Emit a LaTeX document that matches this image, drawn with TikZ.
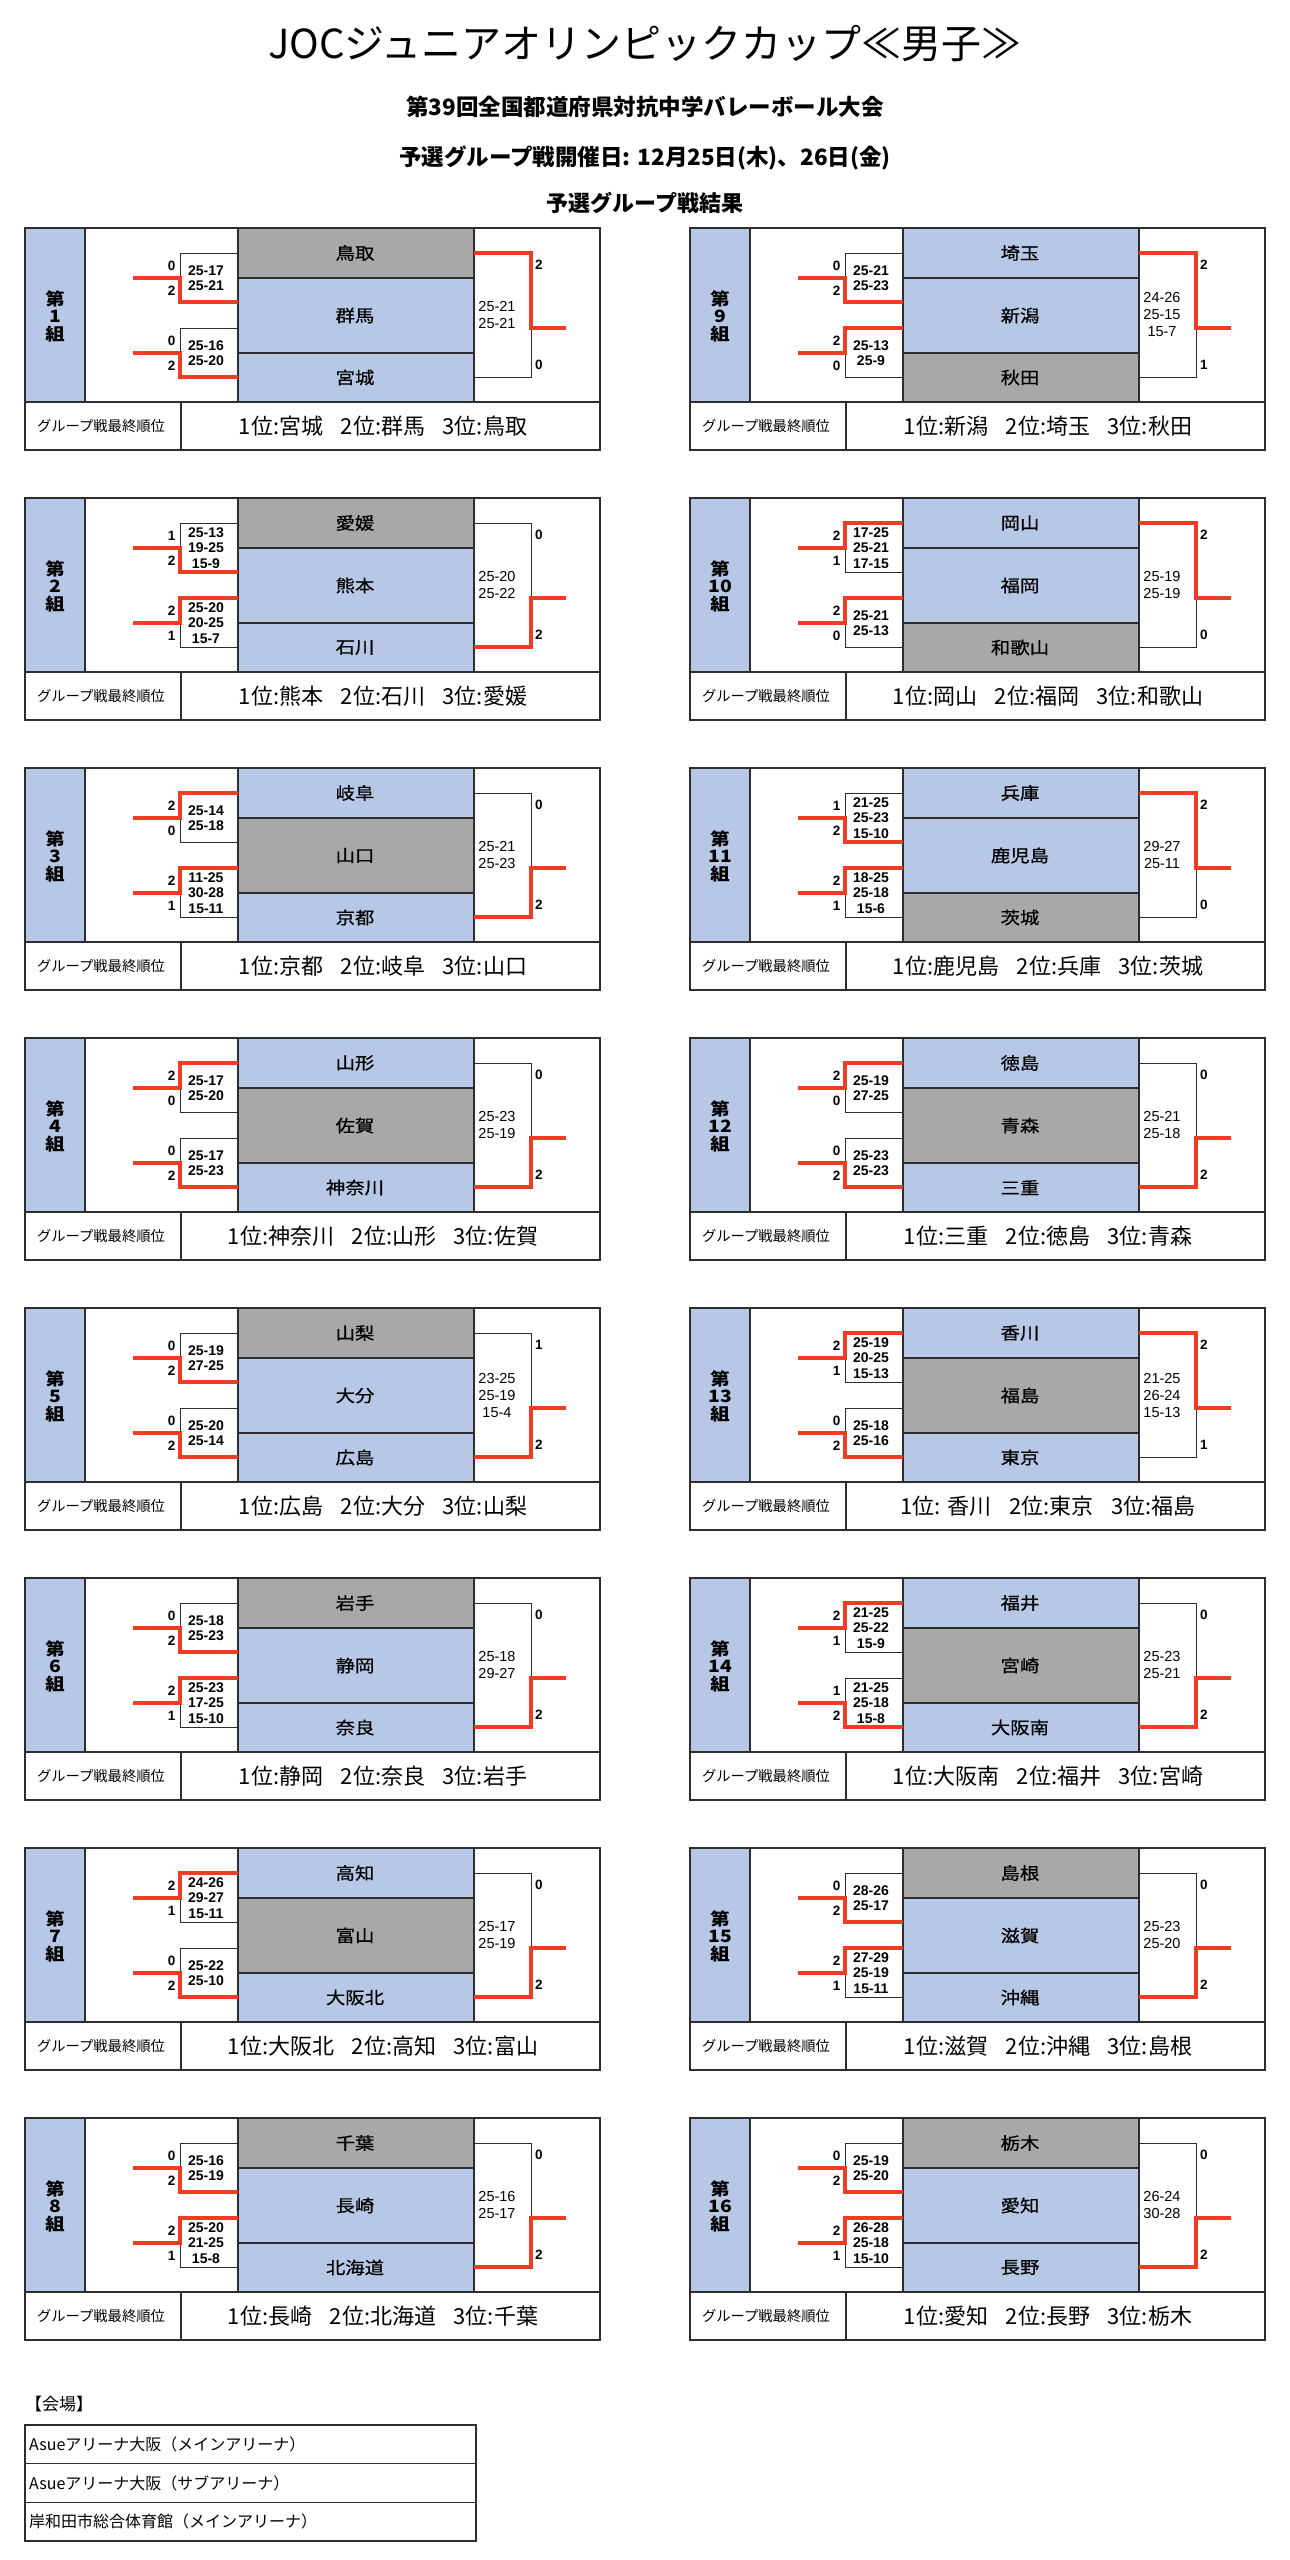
\documentclass[tikz,border=0pt]{standalone}
\usepackage{fontspec}
\setmainfont{Noto Sans CJK JP}
\newfontfamily\lat{Liberation Sans}
\newfontfamily\jpw{Noto Sans CJK JP}[FakeStretch=1.14]
\newfontfamily\jpt{Noto Sans CJK JP}[FakeStretch=1.14, FakeBold=0.6]
\definecolor{tblue}{RGB}{182,200,230}
\definecolor{tgray}{RGB}{168,168,168}
\definecolor{tred}{RGB}{240,60,34}
\definecolor{lnc}{RGB}{45,45,45}
\tikzset{
  boxln/.style={draw=lnc, line width=1.3pt},
  blk/.style={draw=lnc, line width=1pt},
  redln/.style={draw=tred, line width=3.2pt, line join=miter},
  lblf/.style={font=\jpw\fontsize{17}{17.5}\selectfont\bfseries, align=center, inner sep=0pt},
  teamf/.style={font=\jpt\fontsize{17}{17}\selectfont, inner sep=0pt},
  smallf/.style={font=\fontsize{14.3}{14.3}\selectfont, inner sep=0pt},
  rankf/.style={font=\fontsize{22}{22}\selectfont, inner sep=0pt},
  digf/.style={font=\lat\bfseries\fontsize{13.5}{13.5}\selectfont, inner sep=0pt},
  lscf/.style={font=\lat\bfseries\fontsize{14}{15.3}\selectfont, align=center, inner sep=0pt},
  rscf/.style={font=\lat\fontsize{14.5}{17}\selectfont, align=center, inner sep=0pt},
  headf/.style={font=\fontsize{22.5}{22.5}\selectfont\bfseries, inner sep=0pt, anchor=base},
  venuef/.style={font=\fontsize{16}{16}\selectfont, inner sep=0pt, anchor=west}
}
\newcommand\gap{\hspace{0.8em}}
% #1 id, #2 x, #3 y, #4 number, #5-#7 teams, #8 gray row, #9 ranking
\newcommand\grp[9]{%
  \gdef\gx{#2}\gdef\gy{#3}%
  \def\cA{tblue}\def\cB{tblue}\def\cC{tblue}%
  \ifcase#8\or\def\cA{tgray}\or\def\cB{tgray}\or\def\cC{tgray}\fi
  \begin{scope}[shift={(#2,#3)}]
    \fill[tblue] (0,0) rectangle (60,174);
    \fill[\cA] (213,0) rectangle (449,50);
    \fill[\cB] (213,50) rectangle (449,125);
    \fill[\cC] (213,125) rectangle (449,174);
    \draw[boxln] (0,0) rectangle (575,222);
    \draw[boxln] (60,0) -- (60,174) (213,0) -- (213,174) (449,0) -- (449,174)
      (213,50) -- (449,50) (213,125) -- (449,125) (0,174) -- (575,174) (156,174) -- (156,222);
    \node[lblf] (#1lbl) at (30,88) {第\\#4\\組};
    \node[teamf] (#1ta) at (330,25) {#5};
    \node[teamf] (#1tb) at (330,87.5) {#6};
    \node[teamf] (#1tc) at (330,149.5) {#7};
    \node[smallf] (#1cap) at (76,198.5) {グループ戦最終順位};
    \node[rankf] (#1rank) at (358,198) {#9};
  \end{scope}}
% left bracket: #1 id, #2 which, #3 top digit, #4 bottom digit, #5 scores, #6 winner t/b
\newcommand\lbr[6]{%
  \ifnum#2=1 \def\bt{25}\def\bm{50}\def\bb{74}\else\def\bt{100}\def\bm{125}\def\bb{149}\fi
  \begin{scope}[shift={(\gx,\gy)}]
    \coordinate (#1s#2) at (108,\bm);
    \coordinate (#1j#2) at (155,\bm);
    \coordinate (#1u#2) at (213,\bt);
    \coordinate (#1v#2) at (213,\bb);
    \draw[blk] (#1u#2) -- (155,\bt) -- (155,\bb) -- (#1v#2);
    \if#6t\draw[redln] (#1s#2) -- (#1j#2) -- (155,\bt) -- (#1u#2);
    \else\draw[redln] (#1s#2) -- (#1j#2) -- (155,\bb) -- (#1v#2);\fi
    \node[digf,anchor=east] (#1d#2a) at (150.5,\bm-12.5) {#3};
    \node[digf,anchor=east] (#1d#2b) at (150.5,\bm+12.5) {#4};
    \node[lscf] (#1sc#2) at (181,\bm) {#5};
  \end{scope}}
% right bracket: #1 id, #2 top digit, #3 bottom digit, #4 scores, #5 winner
\newcommand\rbr[5]{%
  \begin{scope}[shift={(\gx,\gy)}]
    \coordinate (#1ra) at (449,25);
    \coordinate (#1rb) at (449,149);
    \coordinate (#1rj) at (506,100);
    \coordinate (#1re) at (541,100);
    \draw[blk] (#1ra) -- (506,25) -- (506,149) -- (#1rb);
    \if#5t\draw[redln] (#1ra) -- (506,25) -- (#1rj) -- (#1re);
    \else\draw[redln] (#1rb) -- (506,149) -- (#1rj) -- (#1re);\fi
    \node[digf,anchor=west] (#1e1) at (510,37) {#2};
    \node[digf,anchor=west] (#1e2) at (510,137) {#3};
    \node[rscf] (#1rs) at (472,87) {#4};
  \end{scope}}
\begin{document}
\begin{tikzpicture}[x=1pt,y=-1pt]
\fill[white] (0,0) rectangle (1290,2560);
\useasboundingbox (0,0) rectangle (1290,2560);
\node[font=\fontsize{40}{40}\selectfont, inner sep=0pt, anchor=base] (title) at (645,58) {JOCジュニアオリンピックカップ≪男子≫};
\node[headf] (sub) at (645,115) {第39回全国都道府県対抗中学バレーボール大会};
\node[headf] (date) at (645,165) {予選グループ戦開催日: 12月25日(木)、26日(金)};
\node[headf, font=\fontsize{22}{22}\selectfont\bfseries] (head) at (645,211) {予選グループ戦結果};

% left column
\grp{g1}{25}{228}{1}{鳥取}{群馬}{宮城}{1}{1位:宮城\gap 2位:群馬\gap 3位:鳥取}
\lbr{g1}{1}{0}{2}{25-17\\25-21}{b}
\lbr{g1}{2}{0}{2}{25-16\\25-20}{b}
\rbr{g1}{2}{0}{25-21\\25-21}{t}

\grp{g2}{25}{498}{2}{愛媛}{熊本}{石川}{1}{1位:熊本\gap 2位:石川\gap 3位:愛媛}
\lbr{g2}{1}{1}{2}{25-13\\19-25\\15-9}{b}
\lbr{g2}{2}{2}{1}{25-20\\20-25\\15-7}{t}
\rbr{g2}{0}{2}{25-20\\25-22}{b}

\grp{g3}{25}{768}{3}{岐阜}{山口}{京都}{2}{1位:京都\gap 2位:岐阜\gap 3位:山口}
\lbr{g3}{1}{2}{0}{25-14\\25-18}{t}
\lbr{g3}{2}{2}{1}{11-25\\30-28\\15-11}{t}
\rbr{g3}{0}{2}{25-21\\25-23}{b}

\grp{g4}{25}{1038}{4}{山形}{佐賀}{神奈川}{2}{1位:神奈川\gap 2位:山形\gap 3位:佐賀}
\lbr{g4}{1}{2}{0}{25-17\\25-20}{t}
\lbr{g4}{2}{0}{2}{25-17\\25-23}{b}
\rbr{g4}{0}{2}{25-23\\25-19}{b}

\grp{g5}{25}{1308}{5}{山梨}{大分}{広島}{1}{1位:広島\gap 2位:大分\gap 3位:山梨}
\lbr{g5}{1}{0}{2}{25-19\\27-25}{b}
\lbr{g5}{2}{0}{2}{25-20\\25-14}{b}
\rbr{g5}{1}{2}{23-25\\25-19\\15-4}{b}

\grp{g6}{25}{1578}{6}{岩手}{静岡}{奈良}{1}{1位:静岡\gap 2位:奈良\gap 3位:岩手}
\lbr{g6}{1}{0}{2}{25-18\\25-23}{b}
\lbr{g6}{2}{2}{1}{25-23\\17-25\\15-10}{t}
\rbr{g6}{0}{2}{25-18\\29-27}{b}

\grp{g7}{25}{1848}{7}{高知}{富山}{大阪北}{2}{1位:大阪北\gap 2位:高知\gap 3位:富山}
\lbr{g7}{1}{2}{1}{24-26\\29-27\\15-11}{t}
\lbr{g7}{2}{0}{2}{25-22\\25-10}{b}
\rbr{g7}{0}{2}{25-17\\25-19}{b}

\grp{g8}{25}{2118}{8}{千葉}{長崎}{北海道}{1}{1位:長崎\gap 2位:北海道\gap 3位:千葉}
\lbr{g8}{1}{0}{2}{25-16\\25-19}{b}
\lbr{g8}{2}{2}{1}{25-20\\21-25\\15-8}{t}
\rbr{g8}{0}{2}{25-16\\25-17}{b}

% right column
\grp{g9}{690}{228}{9}{埼玉}{新潟}{秋田}{3}{1位:新潟\gap 2位:埼玉\gap 3位:秋田}
\lbr{g9}{1}{0}{2}{25-21\\25-23}{b}
\lbr{g9}{2}{2}{0}{25-13\\25-9}{t}
\rbr{g9}{2}{1}{24-26\\25-15\\15-7}{t}

\grp{g10}{690}{498}{10}{岡山}{福岡}{和歌山}{3}{1位:岡山\gap 2位:福岡\gap 3位:和歌山}
\lbr{g10}{1}{2}{1}{17-25\\25-21\\17-15}{t}
\lbr{g10}{2}{2}{0}{25-21\\25-13}{t}
\rbr{g10}{2}{0}{25-19\\25-19}{t}

\grp{g11}{690}{768}{11}{兵庫}{鹿児島}{茨城}{3}{1位:鹿児島\gap 2位:兵庫\gap 3位:茨城}
\lbr{g11}{1}{1}{2}{21-25\\25-23\\15-10}{b}
\lbr{g11}{2}{2}{1}{18-25\\25-18\\15-6}{t}
\rbr{g11}{2}{0}{29-27\\25-11}{t}

\grp{g12}{690}{1038}{12}{徳島}{青森}{三重}{2}{1位:三重\gap 2位:徳島\gap 3位:青森}
\lbr{g12}{1}{2}{0}{25-19\\27-25}{t}
\lbr{g12}{2}{0}{2}{25-23\\25-23}{b}
\rbr{g12}{0}{2}{25-21\\25-18}{b}

\grp{g13}{690}{1308}{13}{香川}{福島}{東京}{2}{1位: 香川\gap 2位:東京\gap 3位:福島}
\lbr{g13}{1}{2}{1}{25-19\\20-25\\15-13}{t}
\lbr{g13}{2}{0}{2}{25-18\\25-16}{b}
\rbr{g13}{2}{1}{21-25\\26-24\\15-13}{t}

\grp{g14}{690}{1578}{14}{福井}{宮崎}{大阪南}{2}{1位:大阪南\gap 2位:福井\gap 3位:宮崎}
\lbr{g14}{1}{2}{1}{21-25\\25-22\\15-9}{t}
\lbr{g14}{2}{1}{2}{21-25\\25-18\\15-8}{b}
\rbr{g14}{0}{2}{25-23\\25-21}{b}

\grp{g15}{690}{1848}{15}{島根}{滋賀}{沖縄}{1}{1位:滋賀\gap 2位:沖縄\gap 3位:島根}
\lbr{g15}{1}{0}{2}{28-26\\25-17}{b}
\lbr{g15}{2}{2}{1}{27-29\\25-19\\15-11}{t}
\rbr{g15}{0}{2}{25-23\\25-20}{b}

\grp{g16}{690}{2118}{16}{栃木}{愛知}{長野}{1}{1位:愛知\gap 2位:長野\gap 3位:栃木}
\lbr{g16}{1}{0}{2}{25-19\\25-20}{b}
\lbr{g16}{2}{2}{1}{26-28\\25-18\\15-10}{t}
\rbr{g16}{0}{2}{26-24\\30-28}{b}

% venues
\node[font=\fontsize{17}{17}\selectfont, inner sep=0pt, anchor=west] (venue) at (25,2404) {【会場】};
\draw[boxln] (25,2425) rectangle (476,2541);
\draw[boxln] (25,2463.7) -- (476,2463.7) (25,2502.3) -- (476,2502.3);
\node[venuef] (v1) at (29,2444.3) {Asueアリーナ大阪（メインアリーナ）};
\node[venuef] (v2) at (29,2483) {Asueアリーナ大阪（サブアリーナ）};
\node[venuef] (v3) at (29,2521.7) {岸和田市総合体育館（メインアリーナ）};
\end{tikzpicture}
\end{document}
